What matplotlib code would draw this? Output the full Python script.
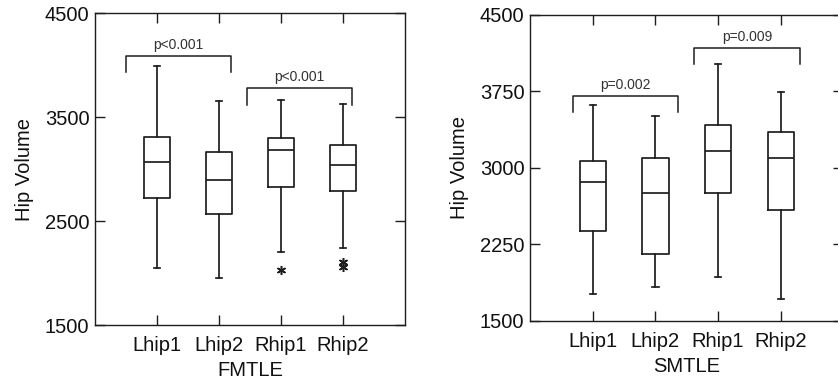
import matplotlib
matplotlib.use('Agg')
import matplotlib.pyplot as plt

plt.rcParams['font.family'] = ['Liberation Sans', 'DejaVu Sans']

groups = ['Lhip1', 'Lhip2', 'Rhip1', 'Rhip2']

# FMTLE box stats
f_low = [2045, 1950, 2205, 2245]
f_q1 = [2725, 2572, 2828, 2786]
f_med = [3069, 2892, 3181, 3037]
f_q3 = [3309, 3168, 3297, 3232]
f_high = [3990, 3650, 3662, 3627]
f_out = [[], [], [2030], [2110, 2062]]

# SMTLE box stats
s_low = [1768, 1837, 1929, 1716]
s_q1 = [2383, 2161, 2759, 2593]
s_med = [2864, 2759, 3162, 3100]
s_q3 = [3064, 3100, 3423, 3348]
s_high = [3616, 3512, 4019, 3744]
s_out = [[], [], [], []]

# brackets: (x1, x2, y_top, y_end, text)
f_brackets = [(0.5, 2.2, 4085, 3930, 'p<0.001'), (2.45, 4.15, 3780, 3617, 'p<0.001')]
s_brackets = [(0.69, 2.36, 3708, 3551, 'p=0.002'), (2.62, 4.31, 4173, 4019, 'p=0.009')]

fig = plt.figure(figsize=(8.38, 3.83), dpi=100)
ax1 = fig.add_axes([0.1134, 0.1514, 0.370, 0.8146])
ax2 = fig.add_axes([0.6325, 0.1619, 0.374, 0.799])


def draw(ax, low, q1, med, q3, high, out, brackets, yticks, xlabel):
    stats = []
    for i in range(len(groups)):
        stats.append(dict(whislo=low[i], q1=q1[i], med=med[i], q3=q3[i],
                          whishi=high[i], fliers=out[i]))
    lc = '#1e1e1e'
    lw = 1.25
    ax.bxp(stats, positions=[1, 2, 3, 4], widths=0.42,
           boxprops=dict(color=lc, linewidth=lw),
           medianprops=dict(color=lc, linewidth=lw),
           whiskerprops=dict(color=lc, linewidth=lw),
           capprops=dict(color=lc, linewidth=lw),
           capwidths=0.1,
           flierprops=dict(marker=(6, 2, 0), markersize=6.5,
                           markeredgecolor=lc, markeredgewidth=1.1))
    for x1, x2, yt, ye, txt in brackets:
        ax.plot([x1, x1, x2, x2], [ye, yt, yt, ye], color=lc, linewidth=1.1)
        ax.text((x1 + x2) / 2, yt + 40, txt, ha='center', va='bottom',
                fontsize=10, color='#333333')
    ax.set_xlim(0, 5)
    ax.set_ylim(1500, 4500)
    ax.set_yticks(yticks)
    ax.set_xticks([1, 2, 3, 4])
    ax.set_xticklabels(groups)
    ax.tick_params(direction='in', length=7, width=1.0, color=lc,
                   top=True, right=True, labelsize=14.5, labelcolor='#111111')
    ax.tick_params(axis='x', pad=8)
    ax.tick_params(axis='y', pad=4)
    for sp in ax.spines.values():
        sp.set_linewidth(1.0)
        sp.set_color(lc)
    ax.set_ylabel('Hip Volume', fontsize=14.5, labelpad=8, color='#111111')
    ax.set_xlabel(xlabel, fontsize=14.5, labelpad=4, color='#111111')


draw(ax1, f_low, f_q1, f_med, f_q3, f_high, f_out, f_brackets,
     [1500, 2500, 3500, 4500], 'FMTLE')
draw(ax2, s_low, s_q1, s_med, s_q3, s_high, s_out, s_brackets,
     [1500, 2250, 3000, 3750, 4500], 'SMTLE')

fig.savefig('out.png', dpi=100)
